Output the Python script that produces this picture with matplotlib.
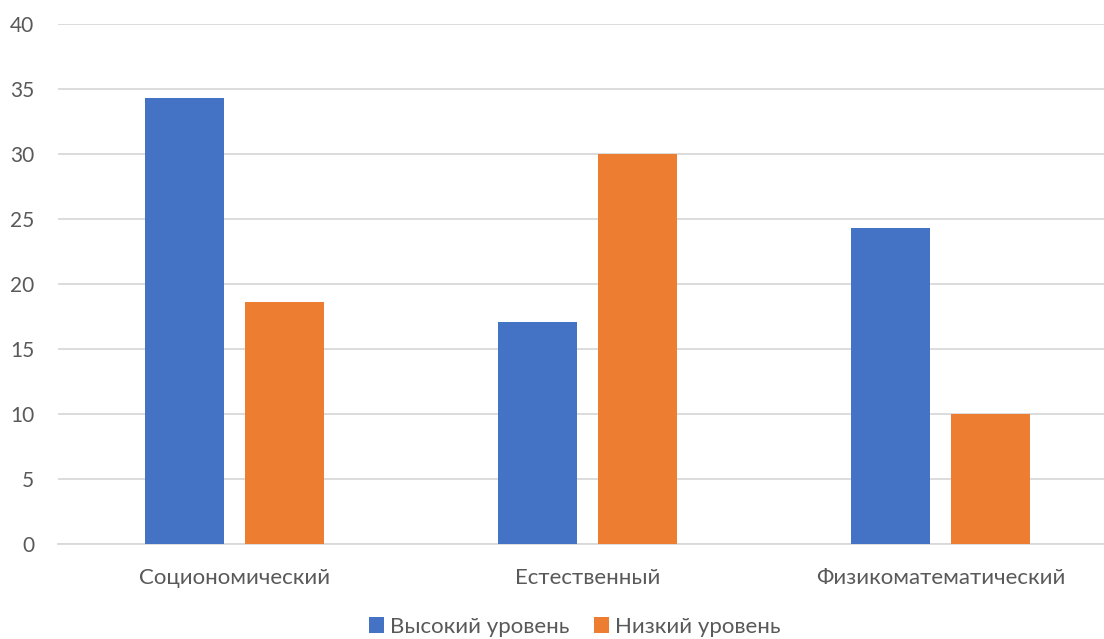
import matplotlib.pyplot as plt
import numpy as np

categories = ["Социономический", "Естественный", "Физикоматематический"]
high_level = [34.3, 17.1, 24.3]
low_level = [18.6, 30.0, 10.0]
series_names = ["Высокий уровень", "Низкий уровень"]
y_ticks = [0, 5, 10, 15, 20, 25, 30, 35, 40]

plt.rcParams['font.family'] = ['Lato', 'DejaVu Sans']

fig = plt.figure(figsize=(11.04, 6.39), dpi=100)
ax = fig.add_axes([58 / 1104, 1 - 544 / 639, (1117 - 58) / 1104, (544 - 24) / 639])

x = np.arange(len(categories))
w = 0.224
gap = 0.06
ax.bar(x - (w + gap) / 2, high_level, w, color="#4472C4", label=series_names[0], zorder=3)
ax.bar(x + (w + gap) / 2, low_level, w, color="#ED7D31", label=series_names[1], zorder=3)

ax.set_xlim(-0.5, len(categories) - 0.5)
ax.set_ylim(0, 40)
ax.set_yticks(y_ticks)
ax.set_xticks(x)
ax.set_xticklabels(categories)
ax.tick_params(axis='both', length=0, colors="#595959")
ax.tick_params(axis='y', pad=17, labelsize=15)
ax.tick_params(axis='x', pad=17, labelsize=16)
ax.grid(axis='y', color="#D9D9D9", linewidth=1.3, zorder=0)
for s in ["top", "right", "left"]:
    ax.spines[s].set_visible(False)
ax.spines["bottom"].set_color("#D9D9D9")
ax.spines["bottom"].set_linewidth(1.3)

fig.legend(loc="center", bbox_to_anchor=(575 / 1104, 1 - 627 / 639), ncol=2, frameon=False,
           fontsize=16, handlelength=0.65, handleheight=0.7, handletextpad=0.3,
           columnspacing=1.1, labelcolor="#595959")

fig.savefig("out.png", dpi=100)
